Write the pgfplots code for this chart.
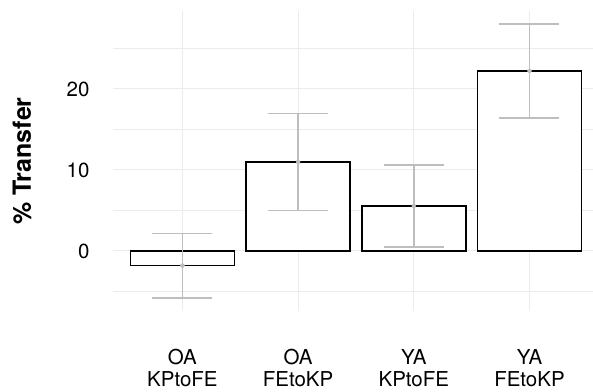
\documentclass[border=0pt]{standalone}
\usepackage{fontspec}
\setmainfont{TeX Gyre Heros}
\usepackage{pgfplots}
\pgfplotsset{compat=1.18}
\definecolor{gridc}{HTML}{EBEBEB}
\definecolor{errc}{HTML}{BEBEBE}
\begin{document}
\begin{tikzpicture}
\begin{axis}[
  scale only axis, width=480pt, height=300pt,
  xmin=0.4, xmax=4.549, ymin=-7.41, ymax=29.63,
  axis line style={draw=none}, tick style={draw=none},
  xtick={1,2,3,4},
  xticklabels={{OA\\KPtoFE},{OA\\FEtoKP},{YA\\KPtoFE},{YA\\FEtoKP}},
  xticklabel style={align=center, font=\fontsize{20.5}{22}\selectfont, yshift=-35pt},
  ytick={0,10,20}, minor ytick={-5,5,15,25},
  yticklabel style={font=\fontsize{20.5}{22}\selectfont, xshift=-20pt},
  /pgf/number format/assume math mode=true,
  xmajorgrids, ymajorgrids, yminorgrids,
  major grid style={draw=gridc, line width=1pt},
  minor grid style={draw=gridc, line width=0.6pt},
  ylabel={\% Transfer},
  ylabel style={font=\fontsize{25}{28}\selectfont\bfseries, at={(axis description cs:-0.1896,0.5)}, anchor=center},
  clip=false,
]
\addplot[ybar, bar width=0.9, fill=white, draw=black, line width=1.6pt]
  coordinates {(1,-1.8) (2,11.0) (3,5.56) (4,22.24)};
\addplot[only marks, mark=none, errc,
  error bars/.cd, y dir=both, y explicit,
  error bar style={draw=errc, line width=1.5pt},
  error mark options={draw=errc, line width=1.5pt, rotate=90, mark size=30pt}]
  coordinates {(1,-1.8) +- (0,3.98) (2,11.0) +- (0,6.0) (3,5.56) +- (0,5.05) (4,22.24) +- (0,5.8)};
\end{axis}
\pgfresetboundingbox
\path ([xshift=-113pt,yshift=-80pt]current axis.south west) rectangle ([yshift=11pt]current axis.north east);
\end{tikzpicture}
\end{document}
